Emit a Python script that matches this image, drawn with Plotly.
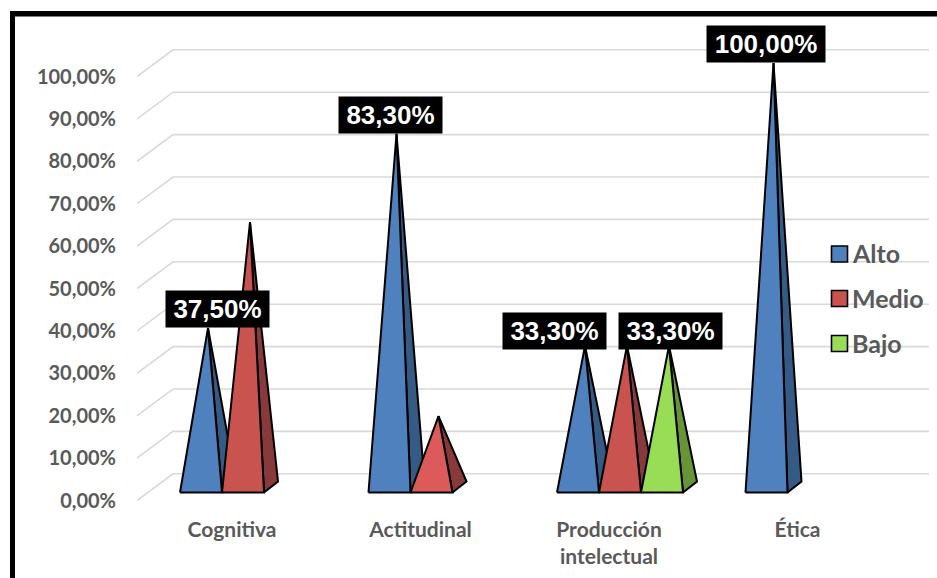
import plotly.graph_objects as go

# ---------- data ----------
categories = ["Cognitiva", "Actitudinal", "Producción<br>intelectual", "Ética"]
alto = [37.5, 83.3, 33.3, 100.0]
medio = [62.5, 16.7, 33.3, 0.0]
bajo = [0.0, 0.0, 33.3, 0.0]
series_names = ["Alto", "Medio", "Bajo"]
y_ticks = [0, 10, 20, 30, 40, 50, 60, 70, 80, 90, 100]
y_tick_labels = ["%.2f%%" % t for t in y_ticks]
y_tick_labels = [s.replace(".", ",") for s in y_tick_labels]

# ---------- style ----------
W, H = 937, 578
L, B = 137, 63          # plot margins
PX_CAT = 188.5          # px per category
PX_VAL = 4.24           # px per percentage point
X0_PX, Y0_PX = 232, 500.5  # pixel of category 0 tick / of value 0 on the front plane
GRID = "#d9d9d9"
TXT = "#595959"
FONT = "Lato"
front = {"Alto": "#4f81bf", "Medio": "#c8534f", "Bajo": "#99dc55"}
side = {"Alto": "#345a85", "Medio": "#873a39", "Bajo": "#669436"}
front_over = {("Medio", 1): "#dd5a5a"}


def xd(px):
    return (px - X0_PX) / PX_CAT


def xpx(dpx):
    return dpx / PX_CAT


def yd(py):
    return (Y0_PX - py) / PX_VAL


def ypx(dpx):
    return dpx / PX_VAL


x_range = [xd(L), xd(W)]
y_range = [yd(H - B), yd(0)]

fig = go.Figure()

# gridlines (floor/wall)
gdx, gdy = xpx(36), ypx(26.7)
gx, gy = [], []
for t in y_ticks:
    gx += [xd(137), xd(137) + gdx, xd(929), None]
    gy += [t, t + gdy, t + gdy, None]
fig.add_trace(go.Scatter(x=gx, y=gy, mode="lines", line=dict(color=GRID, width=1.6),
                         hoverinfo="skip", showlegend=False))

# pyramids
bar_w = xpx(42)
left0 = -xpx(52)
dep_x, dep_y = xpx(14), ypx(11)
base_front = ypx(8)
center_y = base_front + dep_y / 2
apexes = {}
for j, (name, vals) in enumerate(zip(series_names, [alto, medio, bajo])):
    for i, v in enumerate(vals):
        if not v:
            continue
        xl = i + left0 + j * bar_w
        xr = xl + bar_w
        ax_ = (xl + xr) / 2 + dep_x / 2
        ay_ = center_y + v
        apexes[(name, i)] = (ax_, ay_)
        fig.add_trace(go.Scatter(
            x=[xr, xr + dep_x, ax_, xr], y=[base_front, base_front + dep_y, ay_, base_front],
            mode="lines", fill="toself", fillcolor=side[name],
            line=dict(color="black", width=2), hoverinfo="skip", showlegend=False))
        fig.add_trace(go.Scatter(
            x=[xl, xr, ax_, xl], y=[base_front, base_front, ay_, base_front],
            mode="lines", fill="toself", fillcolor=front_over.get((name, i), front[name]),
            line=dict(color="black", width=2), name=name, hoverinfo="skip", showlegend=False))

# legend
for name, py in zip(series_names, [254, 298.5, 343.5]):
    fig.add_trace(go.Scatter(
        x=[xd(839.5)], y=[yd(py)], mode="markers",
        marker=dict(symbol="square", size=16, color=front[name], line=dict(color="black", width=1.6)),
        name=name, hoverinfo="skip", showlegend=False))
    fig.add_annotation(x=xd(850), y=yd(py - 1), text="<b>%s</b>" % name, showarrow=False,
                       xanchor="left", yanchor="middle", xshift=0,
                       font=dict(family=FONT, size=25, color=TXT))

# value labels: (series, category, px offset of box centre from apex, px vertical offset)
value_labels = [("Alto", 0, 9, 0), ("Alto", 1, -6.5, 0), ("Alto", 2, -31, -4), ("Bajo", 2, 1.5, -4), ("Alto", 3, -8, 0)]
lookup = dict(zip(series_names, [alto, medio, bajo]))
for name, i, off, voff in value_labels:
    ax_, ay_ = apexes[(name, i)]
    txt = ("%.2f%%" % lookup[name][i]).replace(".", ",")
    fig.add_annotation(x=ax_, y=ay_, text="<b>%s</b>" % txt, showarrow=False,
                       xanchor="center", yanchor="bottom", xshift=off, yshift=voff,
                       bgcolor="black", width=118 if lookup[name][i] >= 100 else 103, height=36,
                       borderpad=0, align="center", valign="middle",
                       font=dict(family="Liberation Sans", size=26, color="white"))

# frame
def px2paper_x(p):
    return (p - L) / (W - L)


def px2paper_y(p):
    return (H - B - p) / (H - B)


fig.add_shape(type="rect", xref="paper", yref="paper", x0=px2paper_x(10), x1=px2paper_x(W + 5),
              y0=px2paper_y(11), y1=px2paper_y(16.5), fillcolor="black", line_width=0, layer="above")
fig.add_shape(type="rect", xref="paper", yref="paper", x0=px2paper_x(10), x1=px2paper_x(15),
              y0=px2paper_y(11), y1=px2paper_y(H + 5), fillcolor="black", line_width=0, layer="above")

fig.update_layout(
    width=W, height=H, margin=dict(l=L, r=0, t=0, b=B, pad=0),
    paper_bgcolor="white", plot_bgcolor="rgba(0,0,0,0)", showlegend=False,
    font=dict(family=FONT, color=TXT),
    xaxis=dict(range=x_range, tickmode="array", tickvals=list(range(len(categories))),
               ticktext=["<b>%s</b>" % c.replace("<br>", "</b><br><b>") for c in categories],
               showgrid=False, zeroline=False, showline=False, ticks="", tickangle=0,
               tickfont=dict(family=FONT, size=21, color=TXT)),
    yaxis=dict(range=y_range, tickmode="array", tickvals=y_ticks,
               ticktext=["<b>%s</b>" % s for s in y_tick_labels],
               showgrid=False, zeroline=False, showline=False, ticks="", ticklabelstandoff=20,
               tickfont=dict(family=FONT, size=20, color=TXT)),
)

fig.write_html("out.html", config={"displayModeBar": False},
               post_script="document.body.style.margin='0';document.body.style.overflow='hidden';")
